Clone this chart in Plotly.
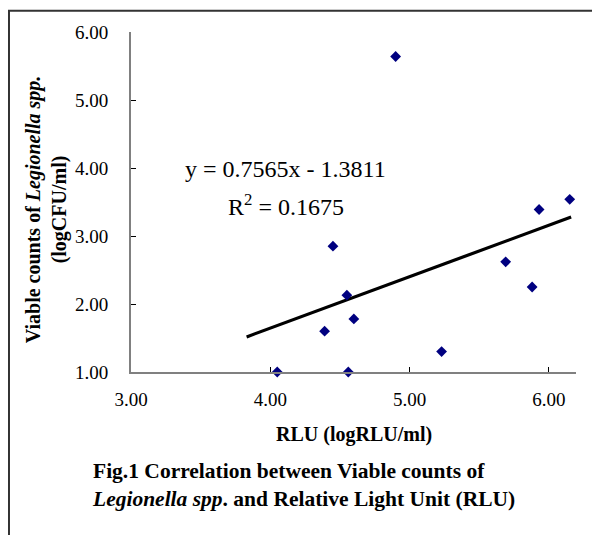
import plotly.graph_objects as go

# readings from the figure
rlu = [4.05, 4.39, 4.45, 4.55, 4.56, 4.60, 4.90, 5.23, 5.69, 5.88, 5.93, 6.15]
cfu = [1.00, 1.60, 2.85, 2.13, 1.00, 1.78, 5.64, 1.30, 2.62, 2.25, 3.39, 3.54]

slope = 0.7565
intercept = -1.3811
r2 = 0.1675
trend_x = [3.83, 6.16]
trend_y = [slope * v + intercept for v in trend_x]

x_ticks = [3, 4, 5, 6]
y_ticks = [1, 2, 3, 4, 5, 6]

serif = "Liberation Serif, Times New Roman, serif"

fig = go.Figure()
fig.add_trace(go.Scatter(x=trend_x, y=trend_y, mode="lines",
                         line=dict(color="black", width=3.2), hoverinfo="skip"))
fig.add_trace(go.Scatter(x=rlu, y=cfu, mode="markers",
                         marker=dict(symbol="diamond", size=8.3, color="#000080", line=dict(width=0)),
                         cliponaxis=False))

axis_common = dict(showgrid=False, zeroline=False, showline=True, linecolor="#808080", linewidth=2,
                   ticks="inside", ticklen=5, tickcolor="black", tickwidth=1,
                   tickformat=".2f", tickfont=dict(family=serif, size=19, color="black"))

fig.update_xaxes(range=[3, 6.195], tickvals=x_ticks, ticklabelstandoff=9, **axis_common)
fig.update_yaxes(range=[1, 6], tickvals=y_ticks, ticklabelstandoff=17, **axis_common)

# page body adds an 8px margin, so the figure is 8px smaller than the window
fig.update_layout(
    width=592, height=527,
    margin=dict(l=123, r=24, t=24, b=163),
    plot_bgcolor="white", paper_bgcolor="white",
    showlegend=False,
    font=dict(family=serif, color="black"),
    annotations=[
        dict(text="y = 0.7565x - 1.3811", x=0.347, y=0.598, xref="paper", yref="paper",
             showarrow=False, font=dict(size=24), xanchor="center", yanchor="middle"),
        dict(text="R<sup>2</sup> = %.4f" % r2, x=0.349, y=0.49, xref="paper", yref="paper",
             showarrow=False, font=dict(size=24), xanchor="center", yanchor="middle"),
        dict(text="<b>RLU (logRLU/ml)</b>", x=0.5, y=-0.184, xref="paper", yref="paper",
             showarrow=False, font=dict(size=20), xanchor="center", yanchor="middle"),
        dict(text="<b>Viable counts of <i>Legionella spp.</i></b><br><b>(logCFU/ml)</b>",
             x=-0.19, y=0.48, xref="paper", yref="paper", textangle=-90,
             showarrow=False, font=dict(size=20), xanchor="center", yanchor="middle"),
        dict(text="<b>Fig.1 Correlation between Viable counts of</b><br>"
                  "<b><i>Legionella spp</i>. and Relative Light Unit (RLU)</b>",
             x=-0.092, y=-0.331, xref="paper", yref="paper", align="left",
             showarrow=False, font=dict(size=21.5), xanchor="left", yanchor="middle"),
    ],
    shapes=[
        dict(type="path", xref="paper", yref="paper",
             path="M -0.2742,-0.7 L -0.2742,1.0626 L 1.3,1.0626",
             line=dict(color="#333333", width=2)),
    ],
)

fig.write_html("out.html")
